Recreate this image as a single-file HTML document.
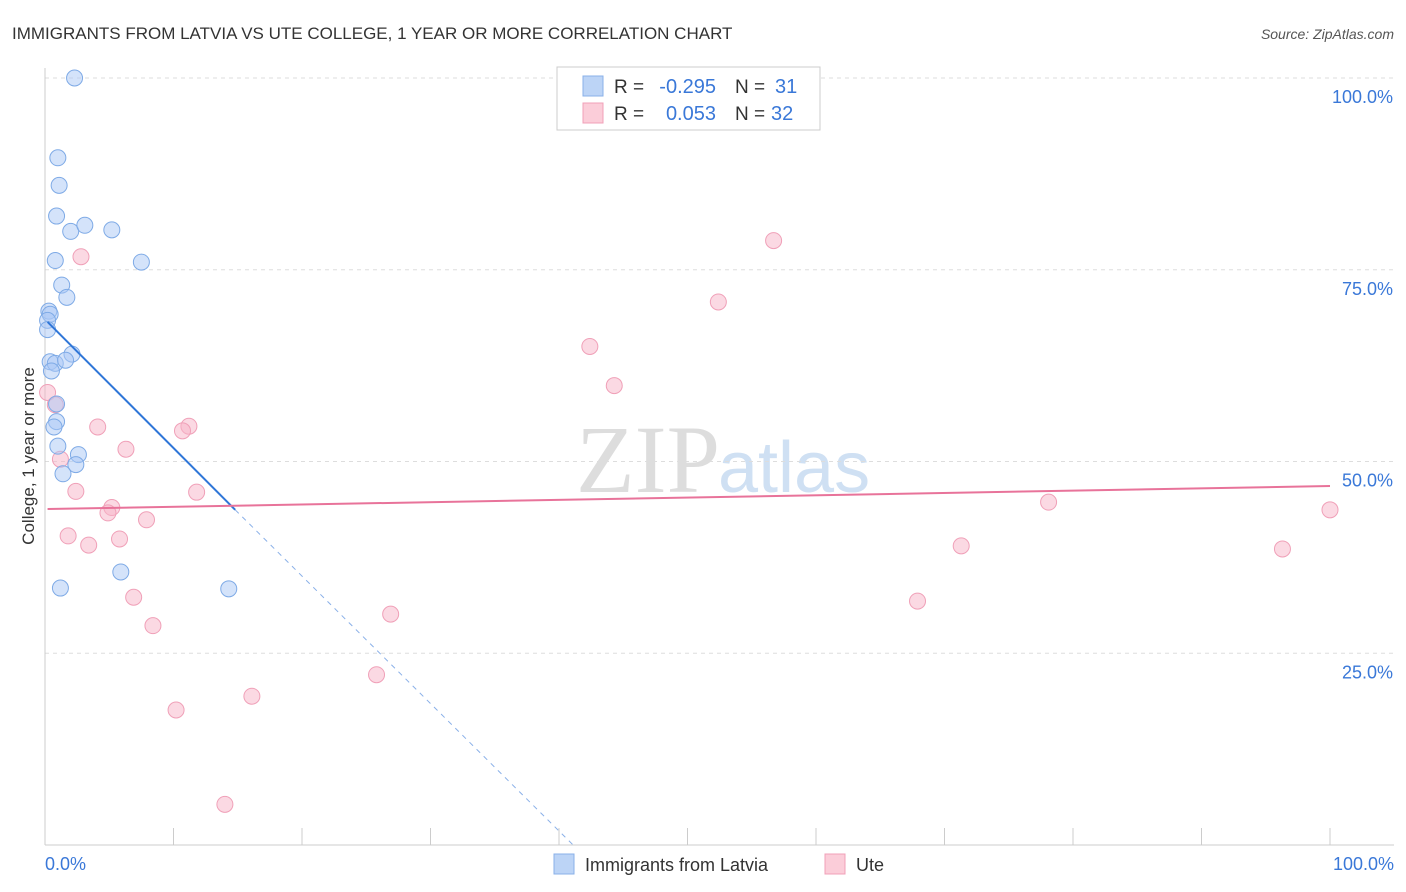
<!DOCTYPE html>
<html><head><meta charset="utf-8"><style>
body{margin:0;background:#fff;font-family:"Liberation Sans",sans-serif}
svg{display:block}
</style></head><body>
<svg id="chart" width="1406" height="892" xmlns="http://www.w3.org/2000/svg">
<text x="12" y="39" font-size="17" fill="#333">IMMIGRANTS FROM LATVIA VS UTE COLLEGE, 1 YEAR OR MORE CORRELATION CHART</text>
<text x="1394" y="39" font-size="14" fill="#555" font-style="italic" text-anchor="end">Source: ZipAtlas.com</text>
<text x="720" y="492" font-size="96" fill="#ddd" text-anchor="end" font-family="Liberation Serif,serif">ZIP</text>
<text x="718" y="492" font-size="72" fill="#cfe0f3">atlas</text>
<g id="grid"></g>
<g id="axes"></g>
<g id="marks"></g>
<text transform="translate(34,456) rotate(-90)" font-size="17" fill="#333" text-anchor="middle">College, 1 year or more</text>
<g>
<rect x="557" y="67" width="263" height="63" fill="#fff" stroke="#ccc"/>
<rect x="583" y="76" width="20" height="20" fill="#bcd4f6" stroke="#8ab0e8"/>
<rect x="583" y="103" width="20" height="20" fill="#fbcdd9" stroke="#f0a0b8"/>
<text x="614" y="93" font-size="19" fill="#333">R =</text>
<text x="716" y="93" font-size="20" fill="#3a78d8" text-anchor="end">-0.295</text>
<text x="735" y="93" font-size="19" fill="#333">N =</text>
<text x="775" y="93" font-size="20" fill="#3a78d8">31</text>
<text x="614" y="120" font-size="19" fill="#333">R =</text>
<text x="716" y="120" font-size="20" fill="#3a78d8" text-anchor="end">0.053</text>
<text x="735" y="120" font-size="19" fill="#333">N =</text>
<text x="771" y="120" font-size="20" fill="#3a78d8">32</text>
</g>
<g>
<rect x="554" y="854" width="20" height="20" fill="#bcd4f6" stroke="#8ab0e8"/>
<text x="585" y="871" font-size="18" fill="#333">Immigrants from Latvia</text>
<rect x="825" y="854" width="20" height="20" fill="#fbcdd9" stroke="#f0a0b8"/>
<text x="856" y="871" font-size="18" fill="#333">Ute</text>
</g>
</svg>
<script>
const yTicks=[25,50,75,100];
const yTickLabels=["25.0%","50.0%","75.0%","100.0%"];
const blueX=[2.3,1.0,1.1,0.9,2.0,3.1,5.2,0.8,7.5,1.3,1.7,0.3,0.4,0.2,0.2,2.1,0.4,0.8,1.6,0.5,0.9,0.9,0.7,1.0,2.6,2.4,1.4,5.9,1.2,14.3];
const blueY=[100,89.6,86,82,80,80.8,80.2,76.2,76,73,71.4,69.6,69.2,68.4,67.2,64,63,62.8,63.2,61.8,57.5,55.2,54.5,52,50.9,49.6,48.4,35.6,33.5,33.4];
const pinkX=[0.2,0.8,2.8,56.7,52.4,42.4,44.3,4.1,11.2,10.7,6.3,1.2,2.4,11.8,5.2,4.9,7.9,5.8,1.8,3.4,6.9,8.4,26.9,25.8,16.1,10.2,14.0,78.1,71.3,67.9,96.3,100];
const pinkY=[59,57.4,76.7,78.8,70.8,65,59.9,54.5,54.6,54,51.6,50.3,46.1,46,44,43.3,42.4,39.9,40.3,39.1,32.3,28.6,30.1,22.2,19.4,17.6,5.3,44.7,39,31.8,38.6,43.7];
const blueTrend=[[0.2,68.2],[14.8,43.7]];const blueExt=[[14.8,43.7],[41.1,0]];
const pinkTrend=[[0.2,43.8],[100,46.8]];
const X=v=>45+v*12.85, Y=v=>845-v*7.67;
const ns="http://www.w3.org/2000/svg";
function mk(p,t,a){const e=document.createElementNS(ns,t);for(const k in a)e.setAttribute(k,a[k]);p.appendChild(e);return e;}
const grid=document.getElementById('grid'),axes=document.getElementById('axes'),marks=document.getElementById('marks');
yTicks.forEach((t,i)=>{
const l=mk(grid,'line',{x1:45,x2:1394,y1:Y(t),y2:Y(t),stroke:'#ddd','stroke-dasharray':'4,4'});


const tx=mk(grid,'text',{x:1393,y:Y(t)+25,'font-size':18,fill:'#3a78d8','text-anchor':'end'});tx.textContent=yTickLabels[i];


});
mk(axes,'line',{x1:45,x2:45,y1:68,y2:845,stroke:'#ccc'});
mk(axes,'line',{x1:45,x2:1394,y1:845,y2:845,stroke:'#ccc'});
for(let i=0;i<=10;i++){const t=mk(axes,'line',{x1:X(i*10),x2:X(i*10),y1:828,y2:845,stroke:'#ccc'});

}
const x0=mk(axes,'text',{x:45,y:870,'font-size':18,fill:'#3a78d8'});x0.textContent='0.0%';


const x1=mk(axes,'text',{x:1394,y:870,'font-size':18,fill:'#3a78d8','text-anchor':'end'});x1.textContent='100.0%';


pinkX.forEach((v,i)=>{const c=mk(marks,'circle',{cx:X(v),cy:Y(pinkY[i]),r:8,fill:'rgba(248,180,200,0.5)',stroke:'#f0a0b8'});

});
blueX.forEach((v,i)=>{const c=mk(marks,'circle',{cx:X(v),cy:Y(blueY[i]),r:8,fill:'rgba(170,200,245,0.5)',stroke:'#7eaae6'});

});
let e=mk(marks,'line',{x1:X(blueExt[0][0]),y1:Y(blueExt[0][1]),x2:X(blueExt[1][0]),y2:Y(blueExt[1][1]),stroke:'#8ab0e8','stroke-dasharray':'5,5'});


e=mk(marks,'line',{x1:X(blueTrend[0][0]),y1:Y(blueTrend[0][1]),x2:X(blueTrend[1][0]),y2:Y(blueTrend[1][1]),stroke:'#2f76d8','stroke-width':2});


e=mk(marks,'line',{x1:X(pinkTrend[0][0]),y1:Y(pinkTrend[0][1]),x2:X(pinkTrend[1][0]),y2:Y(pinkTrend[1][1]),stroke:'#e8739a','stroke-width':2});


</script>
</body></html>
